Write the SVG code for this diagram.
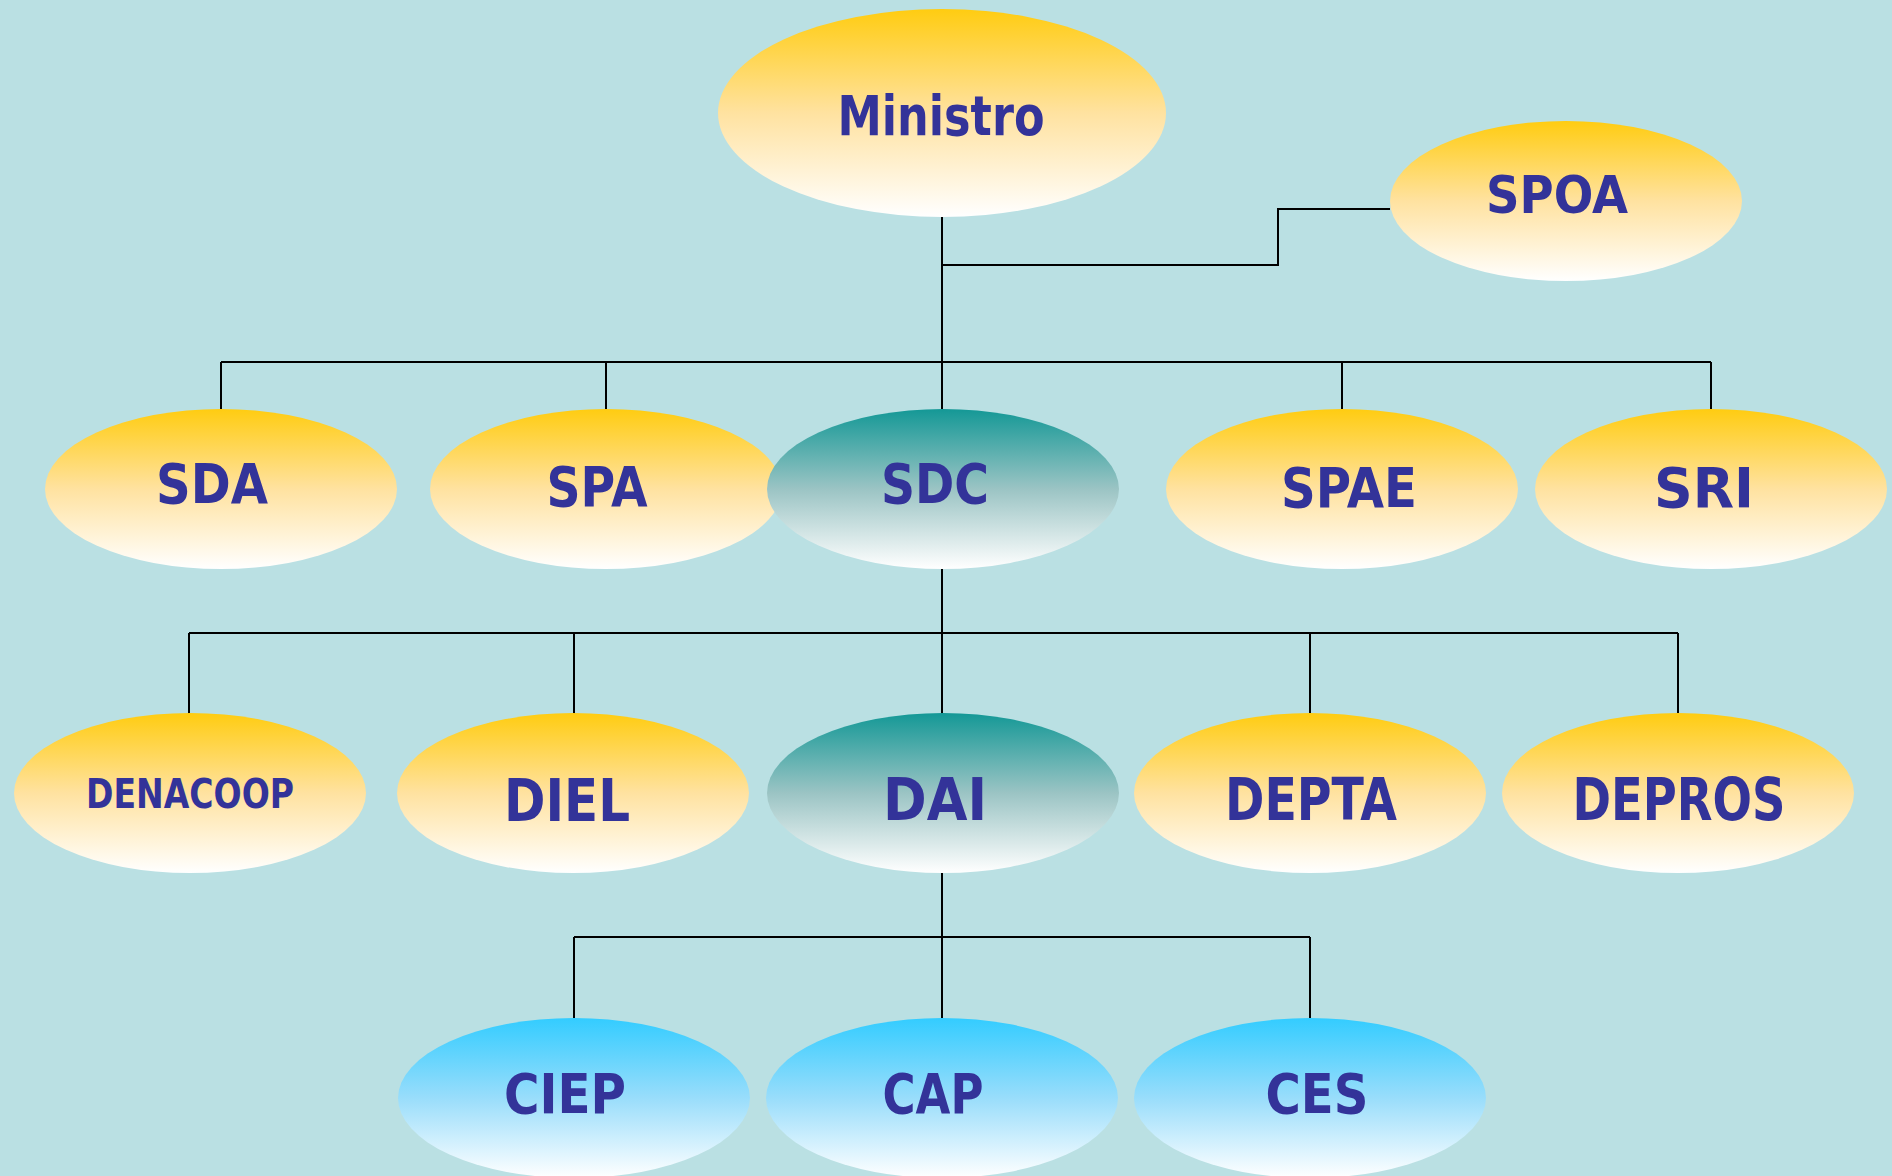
<svg xmlns="http://www.w3.org/2000/svg" width="1892" height="1176" viewBox="0 0 1892 1176">
<defs>
<linearGradient id="gy" x1="0" y1="0" x2="0" y2="1">
<stop offset="0" stop-color="#FFCC11"/><stop offset="0.5" stop-color="#FFE2A0"/><stop offset="1" stop-color="#FFFFFF"/>
</linearGradient>
<linearGradient id="gt" x1="0" y1="0" x2="0" y2="1">
<stop offset="0" stop-color="#149896"/><stop offset="0.5" stop-color="#9BC4C4"/><stop offset="1" stop-color="#FFFFFF"/>
</linearGradient>
<linearGradient id="gb" x1="0" y1="0" x2="0" y2="1">
<stop offset="0" stop-color="#33CCFF"/><stop offset="0.5" stop-color="#99DDFB"/><stop offset="1" stop-color="#FFFFFF"/>
</linearGradient>
<style>
.y{fill:url(#gy)}.t{fill:url(#gt)}.b{fill:url(#gb)}
text{font-family:"DejaVu Sans","Liberation Sans",sans-serif;font-weight:bold;fill:#333399;text-anchor:middle}
.c line,.c polyline{stroke:#000;stroke-width:2;fill:none}
</style>
</defs>
<rect width="1892" height="1176" fill="#BAE0E3"/>
<g class="c" id="connectors">
<line x1="942" y1="217" x2="942" y2="409"/>
<polyline points="942,265 1278,265 1278,209 1390,209"/>
<line x1="221" y1="362" x2="1711" y2="362"/>
<line x1="221" y1="362" x2="221" y2="409"/>
<line x1="606" y1="362" x2="606" y2="409"/>
<line x1="1342" y1="362" x2="1342" y2="409"/>
<line x1="1711" y1="362" x2="1711" y2="409"/>
<line x1="942" y1="569" x2="942" y2="714"/>
<line x1="189" y1="633" x2="1678" y2="633"/>
<line x1="189" y1="633" x2="189" y2="714"/>
<line x1="574" y1="633" x2="574" y2="714"/>
<line x1="1310" y1="633" x2="1310" y2="714"/>
<line x1="1678" y1="633" x2="1678" y2="714"/>
<line x1="942" y1="873" x2="942" y2="1018"/>
<line x1="574" y1="937" x2="1310" y2="937"/>
<line x1="574" y1="937" x2="574" y2="1018"/>
<line x1="1310" y1="937" x2="1310" y2="1018"/>
</g>
<g id="ministro"><ellipse class="y" cx="942" cy="113" rx="224" ry="104"/><text x="941" y="135" font-size="55" textLength="207" lengthAdjust="spacingAndGlyphs">Ministro</text></g>
<g id="spoa"><ellipse class="y" cx="1566" cy="201" rx="176" ry="80"/><text x="1557" y="213" font-size="51" textLength="142" lengthAdjust="spacingAndGlyphs">SPOA</text></g>
<g id="sda"><ellipse class="y" cx="221" cy="489" rx="176" ry="80"/><text x="212" y="503" font-size="56" textLength="112" lengthAdjust="spacingAndGlyphs">SDA</text></g>
<g id="spa"><ellipse class="y" cx="606" cy="489" rx="176" ry="80"/><text x="597" y="506" font-size="56" textLength="101" lengthAdjust="spacingAndGlyphs">SPA</text></g>
<g id="sdc"><ellipse class="t" cx="943" cy="489" rx="176" ry="80"/><text x="935" y="503" font-size="56" textLength="108" lengthAdjust="spacingAndGlyphs">SDC</text></g>
<g id="spae"><ellipse class="y" cx="1342" cy="489" rx="176" ry="80"/><text x="1349" y="507" font-size="56" textLength="136" lengthAdjust="spacingAndGlyphs">SPAE</text></g>
<g id="sri"><ellipse class="y" cx="1711" cy="489" rx="176" ry="80"/><text x="1704" y="507" font-size="56" textLength="100" lengthAdjust="spacingAndGlyphs">SRI</text></g>
<g id="denacoop"><ellipse class="y" cx="190" cy="793" rx="176" ry="80"/><text x="190" y="808" font-size="40" textLength="208" lengthAdjust="spacingAndGlyphs">DENACOOP</text></g>
<g id="diel"><ellipse class="y" cx="573" cy="793" rx="176" ry="80"/><text x="567" y="821" font-size="58" textLength="126" lengthAdjust="spacingAndGlyphs">DIEL</text></g>
<g id="dai"><ellipse class="t" cx="943" cy="793" rx="176" ry="80"/><text x="935" y="820" font-size="58" textLength="104" lengthAdjust="spacingAndGlyphs">DAI</text></g>
<g id="depta"><ellipse class="y" cx="1310" cy="793" rx="176" ry="80"/><text x="1311" y="820" font-size="58" textLength="172" lengthAdjust="spacingAndGlyphs">DEPTA</text></g>
<g id="depros"><ellipse class="y" cx="1678" cy="793" rx="176" ry="80"/><text x="1679" y="820" font-size="58" textLength="213" lengthAdjust="spacingAndGlyphs">DEPROS</text></g>
<g id="ciep"><ellipse class="b" cx="574" cy="1098" rx="176" ry="80"/><text x="565" y="1113" font-size="55" textLength="122" lengthAdjust="spacingAndGlyphs">CIEP</text></g>
<g id="cap"><ellipse class="b" cx="942" cy="1098" rx="176" ry="80"/><text x="933" y="1113" font-size="55" textLength="101" lengthAdjust="spacingAndGlyphs">CAP</text></g>
<g id="ces"><ellipse class="b" cx="1310" cy="1098" rx="176" ry="80"/><text x="1317" y="1113" font-size="55" textLength="103" lengthAdjust="spacingAndGlyphs">CES</text></g>
</svg>
